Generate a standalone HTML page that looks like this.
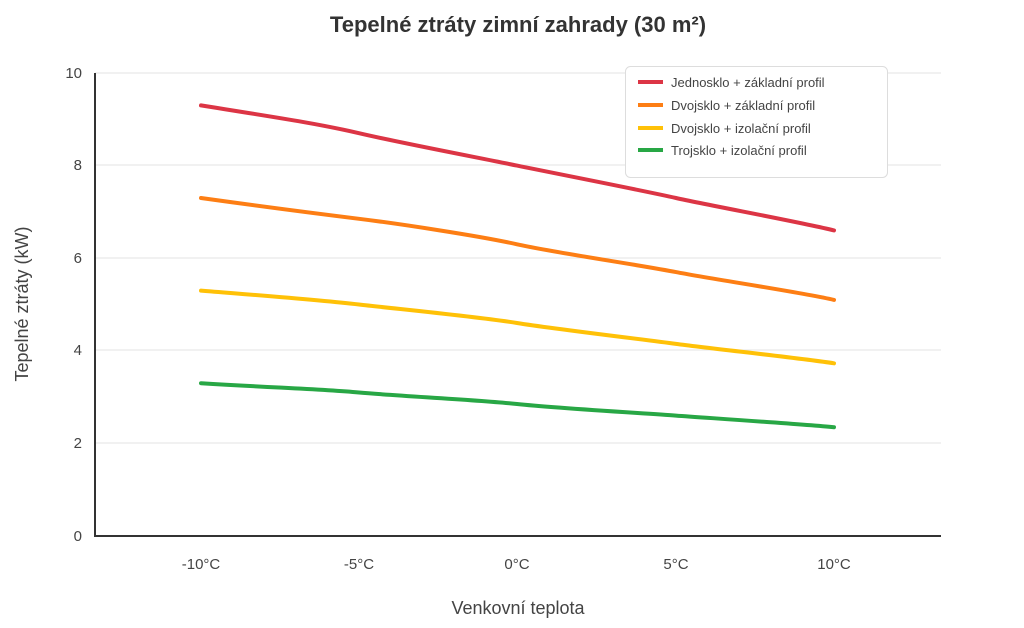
<!DOCTYPE html>
<html><head><meta charset="utf-8"><style>body{margin:0;background:#fff}svg{display:block}text{font-family:"Liberation Sans",sans-serif}</style></head><body>
<svg width="1024" height="628" viewBox="0 0 1024 628">
<text x="518" y="32" text-anchor="middle" font-size="22" font-weight="bold" fill="#333">Tepelné ztráty zimní zahrady (30 m²)</text>
<g stroke="#e3e3e3" stroke-width="1">
<line x1="95" y1="73" x2="941" y2="73"/><line x1="95" y1="165" x2="941" y2="165"/><line x1="95" y1="258" x2="941" y2="258"/><line x1="95" y1="350" x2="941" y2="350"/><line x1="95" y1="443" x2="941" y2="443"/>
</g>
<line x1="95" y1="73" x2="95" y2="536" stroke="#333" stroke-width="2"/>
<line x1="94" y1="536" x2="941" y2="536" stroke="#333" stroke-width="2"/>
<g font-size="15" fill="#444" text-anchor="end">
<text x="82" y="541">0</text><text x="82" y="448">2</text><text x="82" y="355">4</text><text x="82" y="263">6</text><text x="82" y="170">8</text><text x="82" y="78">10</text>
</g>
<g font-size="15" fill="#444" text-anchor="middle">
<text x="201" y="569">-10°C</text><text x="359" y="569">-5°C</text><text x="517" y="569">0°C</text><text x="676" y="569">5°C</text><text x="834" y="569">10°C</text>
</g>
<text x="518" y="614" text-anchor="middle" font-size="18" fill="#444">Venkovní teplota</text>
<text transform="translate(28,304) rotate(-90)" text-anchor="middle" font-size="18" fill="#444">Tepelné ztráty (kW)</text>
<g fill="none" stroke-width="4" stroke-linejoin="round" stroke-linecap="round">
<path stroke="#dc3545" d="M201,105.4 C280,118 320,124 359,133.2 S480,158 517,165.6 S640,190 676,198 S800,222 834,230.4"/>
<path stroke="#fd7e14" d="M201,198 C280,209 320,214 359,218.8 S480,236 517,244.3 S640,265 676,272.1 S800,292 834,299.9"/>
<path stroke="#ffc107" d="M201,290.6 C280,297 320,300 359,304.5 S480,317 517,323 S640,339 676,343.9 S800,358 834,363.3"/>
<path stroke="#28a745" d="M201,383.2 C280,388 320,389 359,392.5 S480,400 517,404 S640,413 676,415.6 S800,424 834,427.2"/>
</g>
<rect x="625.5" y="66.5" width="262" height="111" rx="5" fill="#fff" stroke="#ddd"/>
<g stroke-width="4"><line x1="638" y1="82" x2="663" y2="82" stroke="#dc3545"/><line x1="638" y1="105" x2="663" y2="105" stroke="#fd7e14"/><line x1="638" y1="128" x2="663" y2="128" stroke="#ffc107"/><line x1="638" y1="150" x2="663" y2="150" stroke="#28a745"/></g>
<g font-size="13" fill="#444">
<text x="671" y="87">Jednosklo + základní profil</text><text x="671" y="110">Dvojsklo + základní profil</text><text x="671" y="133">Dvojsklo + izolační profil</text><text x="671" y="155">Trojsklo + izolační profil</text>
</g>
</svg>
</body></html>
